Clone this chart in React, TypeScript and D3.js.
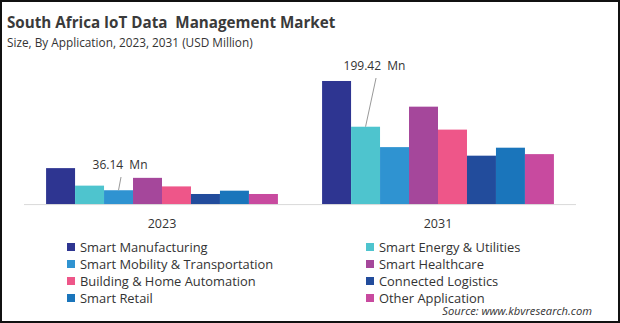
import React from "react";
import * as d3 from "d3";

const years = ["2023", "2031"];
const series = [
  "Smart Manufacturing",
  "Smart Energy & Utilities",
  "Smart Mobility & Transportation",
  "Smart Healthcare",
  "Building & Home Automation",
  "Connected Logistics",
  "Smart Retail",
  "Other Application",
];
const values2023 = [93, 48, 36.14, 68, 46, 26.5, 35, 26.5];
const values2031 = [317, 199.42, 147, 251, 192, 125, 145.5, 129];
const colors = ["#2E3591", "#4EC4CE", "#2F93D1", "#A5479B", "#EE5689", "#224C9C", "#1A75BB", "#C84A9F"];
const annotations = [
  { year: "2023", series: "Smart Mobility & Transportation", label: "36.14  Mn", dx: 1.5, lx: 2.5 },
  { year: "2031", series: "Smart Energy & Utilities", label: "199.42  Mn", dx: 9, lx: 10.5 },
];

const W = 620;
const H = 323;
const FONT = "'Open Sans', 'DejaVu Sans', sans-serif";

export default function App() {
  const valuesByYear: Record<string, number[]> = { "2023": values2023, "2031": values2031 };
  const x0 = d3.scaleBand<string>().domain(years).range([24, 576]).paddingInner(0.16).paddingOuter(0.08);
  const x1 = d3.scaleBand<string>().domain(series).range([0, x0.bandwidth()]);
  const y = d3.scaleLinear().domain([0, 350]).range([204.3, 204.3 - 350 * 0.389]);

  const leftLegend = series.filter((_, i) => i % 2 === 0);
  const rightLegend = series.filter((_, i) => i % 2 === 1);

  return (
    <svg
      width={W}
      height={H}
      style={{ position: "absolute", left: 0, top: 0, background: "#fff", whiteSpace: "pre" }}
      fontFamily={FONT}
    >
      <rect x={1} y={1} width={W - 2} height={H - 2} fill="#fff" stroke="#111" strokeWidth={2} />
      <text x={7} y={28} fontSize={15.2} fontWeight={700} fill="#3a3a3a" style={{ whiteSpace: "pre" }}>
        {"South Africa IoT Data  Management Market"}
      </text>
      <text x={7} y={46.5} fontSize={11.8} fill="#333">
        Size, By Application, 2023, 2031 (USD Million)
      </text>

      {years.map((yr) => (
        <g key={yr} transform={`translate(${x0(yr)},0)`}>
          {series.map((s, i) => {
            const v = valuesByYear[yr][i];
            return (
              <rect
                key={s}
                x={x1(s)}
                y={y(v)}
                width={x1.bandwidth()}
                height={y(0) - y(v)}
                fill={colors[i]}
              />
            );
          })}
        </g>
      ))}

      <line x1={24} x2={576} y1={y(0) + 0.3} y2={y(0) + 0.3} stroke="#d9d9d9" strokeWidth={1} />

      {years.map((yr) => (
        <text
          key={yr}
          x={(x0(yr) as number) + x0.bandwidth() / 2}
          y={228}
          fontSize={12.5}
          textAnchor="middle"
          fill="#333"
        >
          {yr}
        </text>
      ))}

      {annotations.map((a) => {
        const i = series.indexOf(a.series);
        const v = valuesByYear[a.year][i];
        const cx = (x0(a.year) as number) + (x1(a.series) as number) + x1.bandwidth() / 2;
        const ty = a.year === "2023" ? 169 : 70;
        return (
          <g key={a.year}>
            <line x1={cx + a.lx} y1={ty + 8} x2={cx} y2={y(v)} stroke="#999" strokeWidth={1} />
            <text x={cx + a.dx} y={ty} fontSize={12} textAnchor="middle" fill="#333" style={{ whiteSpace: "pre" }}>
              {a.label}
            </text>
          </g>
        );
      })}

      {[leftLegend, rightLegend].map((col, ci) =>
        col.map((s, ri) => {
          const i = series.indexOf(s);
          const lx = ci === 0 ? 67 : 366;
          const cy = 247 + ri * 17;
          return (
            <g key={s}>
              <rect x={lx} y={cy - 4} width={8} height={8} fill={colors[i]} />
              <text x={lx + 13} y={cy} dy="0.35em" fontSize={12.9} fill="#333">
                {s}
              </text>
            </g>
          );
        })
      )}

      <text x={592} y={315} fontSize={11.2} fontStyle="italic" textAnchor="end" fill="#333">
        Source: www.kbvresearch.com
      </text>
    </svg>
  );
}
